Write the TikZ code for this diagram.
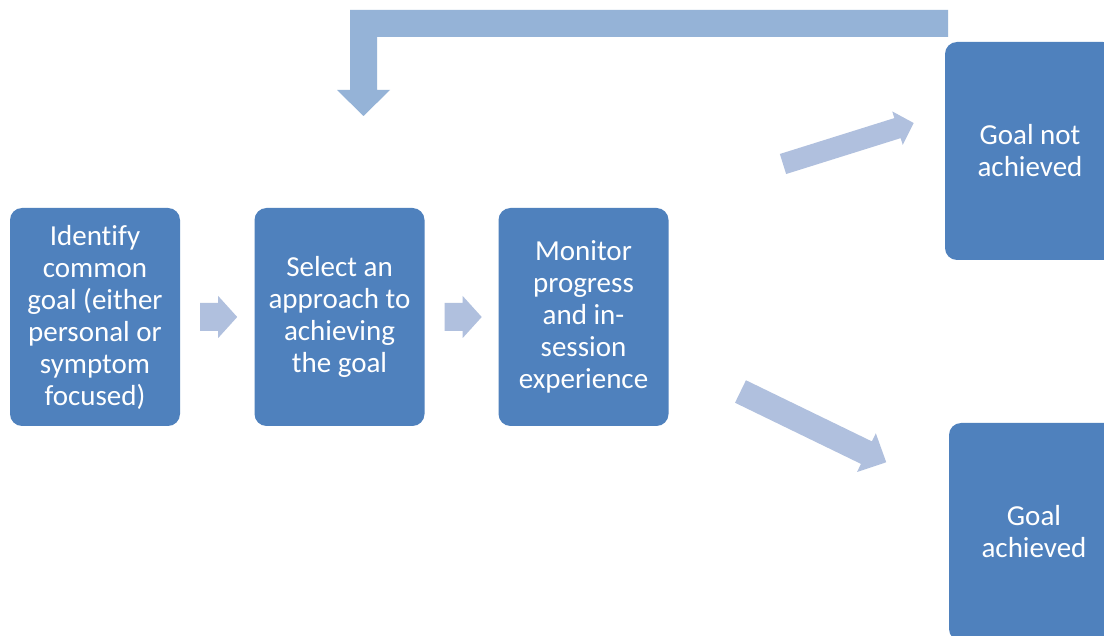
\documentclass[tikz,border=0pt]{standalone}
\usepackage{fontspec}
\setmainfont{Carlito}[Ligatures=NoCommon]
\usetikzlibrary{calc}
\definecolor{boxblue}{HTML}{4F81BD}
\definecolor{arrowblue}{HTML}{B0C0DE}
\definecolor{loopblue}{HTML}{95B3D7}
\tikzset{
  stepbox/.style={rectangle, rounded corners=12, fill=boxblue, text=white,
    minimum width=170, minimum height=218, inner sep=0, align=center,
    font=\fontsize{29}{32}\selectfont},
  % block arrow: length / shaft width / head width / head length
  pics/blockarrow/.style args={#1/#2/#3/#4}{code={
    \fill[arrowblue] (0,{-#2/2}) -- ({#1-#4},{-#2/2}) -- ({#1-#4},{-#3/2})
      -- (#1,0) -- ({#1-#4},{#3/2}) -- ({#1-#4},{#2/2}) -- (0,{#2/2}) -- cycle;
  }}
}
\begin{document}
\begin{tikzpicture}[x=1pt,y=-1pt]
\clip (0,0) rectangle (1104,636);
\fill[white] (0,0) rectangle (1104,636);

% process steps
\node[stepbox] (b1) at (95,317) {Identify\\common\\goal (either\\personal or\\symptom\\focused)};
\node[stepbox] (b2) at (339.5,317) {Select an\\approach to\\achieving\\the goal};
\node[stepbox] (b3) at (583.5,317) {Monitor\\progress\\and in-\\session\\experience};
\node[stepbox] (gn) at (1030,151) {Goal not\\achieved};
\node[stepbox] (ga) at (1034,532) {Goal\\achieved};

% arrows between the steps
\pic at ($(b1.east)+(20,0)$) {blockarrow=37/28/42/19};
\pic at ($(b2.east)+(20,0)$) {blockarrow=37/28/42/19};
\pic[rotate=17.4] at (783,164) {blockarrow=137/21/35/17};
\pic[rotate=-25.9] at (740.5,391.5) {blockarrow=162/25/43/22};

% loop back from "Goal not achieved" to the approach step
\coordinate (loopend) at (948,10);
\fill[loopblue] (loopend) -- (350,10) -- (350,90) -- (337,90) -- (363.5,116)
  -- (390,90) -- (377,90) -- (377,37) -- (948,37) -- cycle;
\end{tikzpicture}
\end{document}
